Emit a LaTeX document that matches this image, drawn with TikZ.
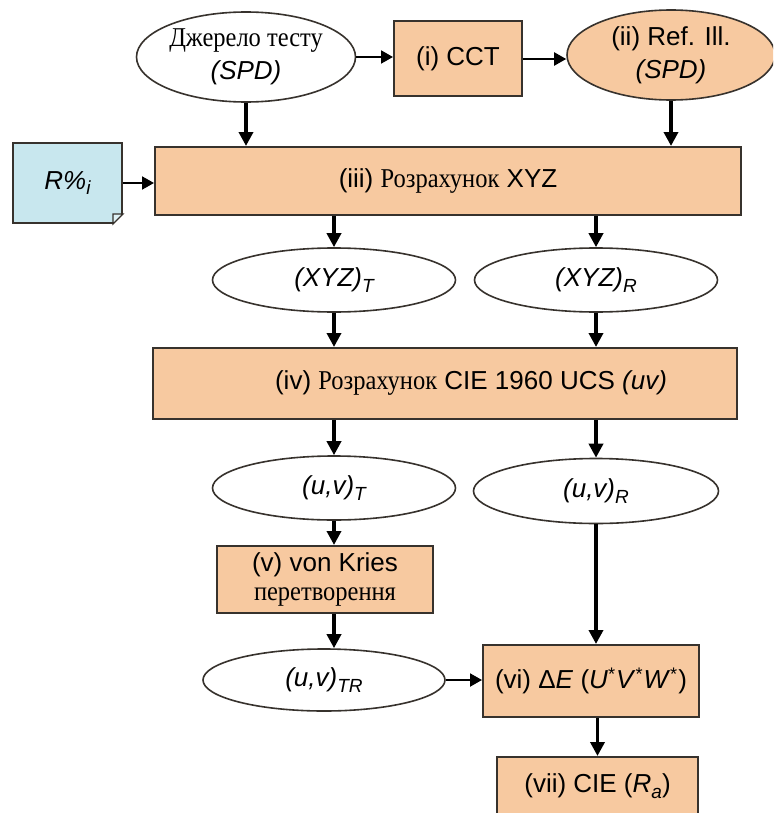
\documentclass[tikz,border=0pt]{standalone}
\usepackage{fontspec}
\setmainfont{Liberation Sans}
\newfontfamily\uaserif[FakeStretch=0.9]{Liberation Serif}
\newcommand{\uatext}[1]{{\uaserif\fontsize{13.6}{15}\selectfont #1}}
\newcommand{\lowsub}[1]{\raisebox{-0.4ex}{\fontsize{9.5}{10}\selectfont #1}}
\usetikzlibrary{shapes.geometric, arrows.meta}
\definecolor{peach}{RGB}{247,201,160}
\definecolor{paleblue}{RGB}{200,231,238}
\definecolor{edge}{RGB}{55,50,45}

\begin{document}
\begin{tikzpicture}[x=0.5pt, y=-0.5pt,
    font=\fontsize{13}{15.5}\selectfont,
    procbox/.style={draw=edge, line width=1pt, fill=peach, rectangle, inner sep=0pt, align=center},
    dataoval/.style={draw=edge, line width=0.8pt, fill=white, ellipse, inner sep=0pt, align=center},
    flowarrow/.style={line width=1.8pt, -{Triangle[length=7pt, width=7pt]}},
    sidearrow/.style={line width=1pt, -{Triangle[length=6pt, width=6.5pt]}}]
    \clip (0, 0) rectangle (773, 813);
    \fill [white] (0, 0) rectangle (773, 813);
    \node [dataoval, minimum width=109.5pt, minimum height=45pt] (src) at (246, 57) {\uatext{Джерело тесту}\\[1pt]\textit{(SPD)}};
    \node [procbox, minimum width=64pt, minimum height=37.5pt] (cct) at (458, 59) {(i) CCT};
    \node [dataoval, fill=peach, minimum width=104pt, minimum height=45pt] (ref) at (671, 55) {(ii) Ref. Ill.\\[1pt]\textit{(SPD)}};
    \node [draw=edge, line width=1pt, fill=paleblue, minimum width=54.5pt, minimum height=40pt] (note) at (67.5, 183) {\textit{R\%\lowsub{i}}};
    \fill [white] ([xshift=-5pt]note.south east) -- ([xshift=1pt]note.south east) -- ([yshift=5pt]note.south east) -- cycle;
    \draw [edge, line width=0.6pt, fill=paleblue!60!white] ([xshift=-5pt]note.south east) -- ([xshift=-5pt, yshift=5pt]note.south east) -- ([yshift=5pt]note.south east) -- cycle;
    \node [procbox, minimum width=293pt, minimum height=34pt] (xyz) at (448, 181) {(iii)~\uatext{Розрахунок} XYZ};
    \node [dataoval, minimum width=121.5pt, minimum height=32pt] (xyzT) at (334, 280) {\textit{(XYZ)\lowsub{T}}};
    \node [dataoval, minimum width=121.5pt, minimum height=32pt] (xyzR) at (596, 280) {\textit{(XYZ)\lowsub{R}}};
    \node [procbox, minimum width=292pt, minimum height=35.5pt] (ucs) at (445, 383.5) {\hspace*{26pt}(iv)~\uatext{Розрахунок} CIE 1960 UCS \textit{(uv)}};
    \node [dataoval, minimum width=121.5pt, minimum height=32pt] (uvT) at (334, 488) {\textit{(u,v)\lowsub{T}}};
    \node [dataoval, minimum width=122.5pt, minimum height=32.5pt] (uvR) at (596, 491) {\textit{(u,v)\lowsub{R}}};
    \node [procbox, minimum width=108pt, minimum height=33.5pt] (kries) at (325, 579.5) {(v) von Kries\\[-1pt]\uatext{перетворення}};
    \node [dataoval, minimum width=121pt, minimum height=31pt] (uvTR) at (324, 680) {\textit{(u,v)\lowsub{TR}}};
    \node [procbox, minimum width=108pt, minimum height=36pt] (delta) at (591, 681) {(vi) Δ\textit{E} (\textit{U}\textsuperscript{*}\textit{V}\textsuperscript{*}\textit{W}\textsuperscript{*})};
    \node [procbox, minimum width=100.5pt, minimum height=29pt] (cie) at (597.5, 786) {(vii) CIE (\textit{R\lowsub{a}})};
    \draw [sidearrow] (src.east) -- (src.east -| cct.west);
    \draw [sidearrow] (cct.east) -- (cct.east -| ref.west);
    \draw [flowarrow] (src.south) -- (src.south |- xyz.north);
    \draw [flowarrow] (ref.south) -- (ref.south |- xyz.north);
    \draw [sidearrow] (note.east) -- (note.east -| xyz.west);
    \draw [flowarrow] (xyzT.north |- xyz.south) -- (xyzT.north);
    \draw [flowarrow] (xyzR.north |- xyz.south) -- (xyzR.north);
    \draw [flowarrow] (xyzT.south) -- (xyzT.south |- ucs.north);
    \draw [flowarrow] (xyzR.south) -- (xyzR.south |- ucs.north);
    \draw [flowarrow] (uvT.north |- ucs.south) -- (uvT.north);
    \draw [flowarrow] (uvR.north |- ucs.south) -- (uvR.north);
    \draw [flowarrow] (uvT.south) -- (uvT.south |- kries.north);
    \draw [flowarrow] (uvT.south |- kries.south) -- (uvT.south |- uvTR.north);
    \draw [flowarrow] (uvR.south) -- (uvR.south |- delta.north);
    \draw [sidearrow] (uvTR.east) -- (uvTR.east -| delta.west);
    \draw [flowarrow] (cie.north |- delta.south) -- (cie.north);
\end{tikzpicture}
\end{document}
